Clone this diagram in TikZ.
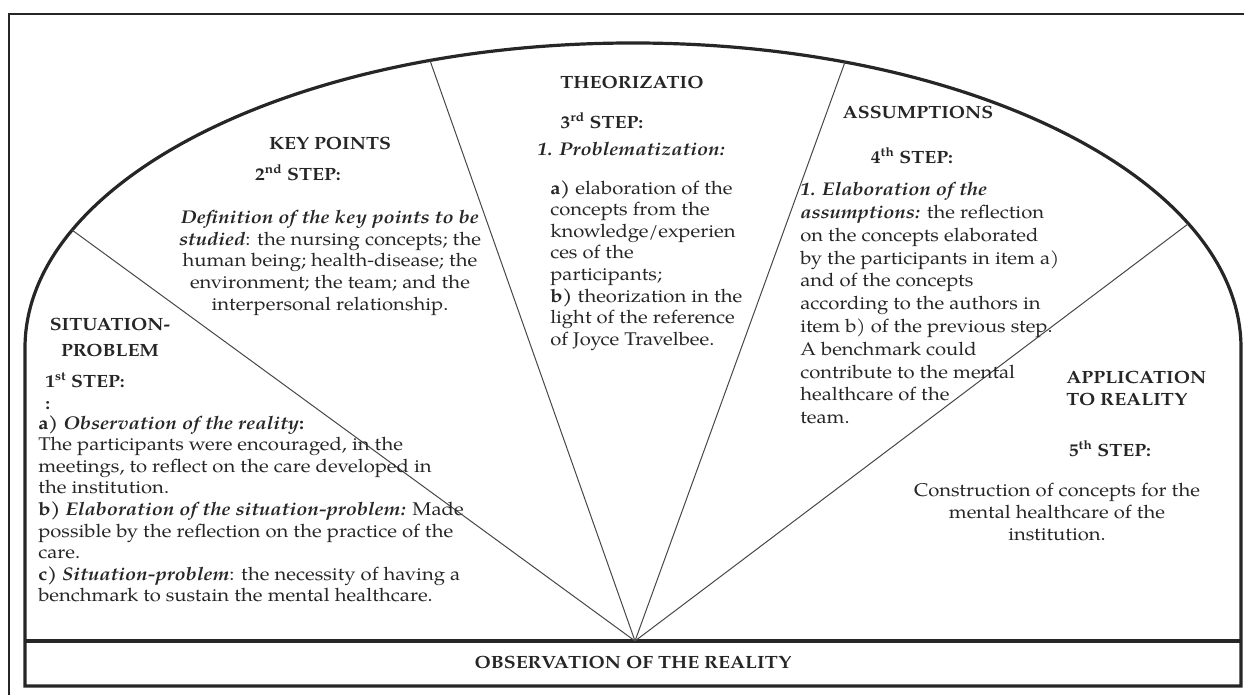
\documentclass[tikz,border=0pt]{standalone}
\usepackage{fontspec}
\setmainfont{texgyrepagella}[Extension=.otf, UprightFont=*-regular, BoldFont=*-bold, ItalicFont=*-italic, BoldItalicFont=*-bolditalic, FakeStretch=1.1]
\usepackage{tikz}
\usetikzlibrary{positioning,calc}

\definecolor{ink}{HTML}{262626}

\tikzset{
  frameline/.style={draw=ink, line width=1.2pt},
  outline/.style={draw=ink, line width=2.4pt},
  divider/.style={draw=ink!85, line width=0.75pt},
  head/.style={inner sep=0pt, text=ink, font=\fontsize{13.3}{16.5}\selectfont\bfseries},
  body/.style={inner sep=0pt, text=ink, font=\fontsize{13.8}{16.2}\selectfont},
}

\begin{document}
\begin{tikzpicture}[x=0.75pt,y=0.75pt]
    \useasboundingbox (0,0) rectangle (1244,695);

    % frame (only top and left edges show)
    \draw[frameline] (9,0) -- (9,681) -- (1244,681);

    % arch and bottom band
    \draw[outline] (25,9) -- (25,347) arc[start angle=180, end angle=0, x radius=608, y radius=305] -- (1241,9) -- cycle;
    \draw[outline] (25,54) -- (1241,54);

    % fan of dividers from the apex to the arch
    \coordinate (apex) at (635,54);
    \coordinate (d1) at (72,465);
    \coordinate (d2) at (430,634.5);
    \coordinate (d3) at (845,633);
    \coordinate (d4) at (1188,471);
    \foreach \d in {d1,d2,d3,d4} {
        \draw[divider] (apex) -- (\d);
    }

    % 1st step: situation-problem
    \node[head, align=center, anchor=north, font=\fontsize{13.3}{19.5}\selectfont\bfseries] (sithead) at (110,377) {SITUATION-\\PROBLEM};
    \node[head, align=left, anchor=north west] (sitstep) at (45,323) {1\textsuperscript{st} STEP:\\:};
    \node[body, align=left, anchor=north west] (sitbody) at (38,280) {\textbf{a)} \textbf{\textit{Observation of the reality}:}\\
        The participants were encouraged, in the\\
        meetings, to reflect on the care developed in\\
        the institution.\\
        \textbf{b)} \textbf{\textit{Elaboration of the situation-problem:}} Made\\
        possible by the reflection on the practice of the\\
        care.\\
        \textbf{c)} \textbf{\textit{Situation-problem}}: the necessity of having a\\
        benchmark to sustain the mental healthcare.};

    % 2nd step: key points
    \node[head, anchor=north] (keyhead) at (330,558) {KEY POINTS};
    \node[head, anchor=north] (keystep) at (298,531) {2\textsuperscript{nd} STEP:};
    \node[body, align=center, anchor=north] (keybody) at (330,485) {\textbf{\textit{Definition of the key points to be}}\\
        \textbf{\textit{studied}}: the nursing concepts; the\\
        human being; health-disease; the\\
        environment; the team; and the\\
        interpersonal relationship.};

    % 3rd step: theorization
    \node[head, anchor=north] (theohead) at (632,619) {THEORIZATIO};
    \node[head, anchor=north] (theostep) at (602,583) {3\textsuperscript{rd} STEP:};
    \node[body, anchor=north west] (theoprob) at (537,553) {\textbf{\textit{1. Problematization:}}};
    \node[body, align=left, anchor=north west] (theobody) at (550,515) {\textbf{a)} elaboration of the\\
        concepts from the\\
        knowledge/experien\\
        ces of the\\
        participants;\\
        \textbf{b)} theorization in the\\
        light of the reference\\
        of Joyce Travelbee.};

    % 4th step: assumptions
    \node[head, anchor=north] (asshead) at (918,589) {ASSUMPTIONS};
    \node[head, anchor=north] (assstep) at (912,548) {4\textsuperscript{th} STEP:};
    \node[body, align=left, anchor=north west, font=\fontsize{13.8}{17.1}\selectfont] (assbody) at (800,513) {\textbf{\textit{1. Elaboration of the}}\\
        \textbf{\textit{assumptions:}} the reflection\\
        on the concepts elaborated\\
        by the participants in item a)\\
        and of the concepts\\
        according to the authors in\\
        item b) of the previous step.\\
        A benchmark could\\
        contribute to the mental\\
        healthcare of the\\
        team.};

    % 5th step: application to reality
    \node[head, align=left, anchor=north west] (apphead) at (1066,324) {APPLICATION\\TO REALITY};
    \node[head, anchor=north] (appstep) at (1110,255) {5\textsuperscript{th} STEP:};
    \node[body, align=center, anchor=north, font=\fontsize{13.8}{16.5}\selectfont] (appbody) at (1057,212) {Construction of concepts for the\\
        mental healthcare of the\\
        institution.};

    % bottom band
    \node[head] (obs) at (633,33) {OBSERVATION OF THE REALITY};
\end{tikzpicture}
\end{document}
